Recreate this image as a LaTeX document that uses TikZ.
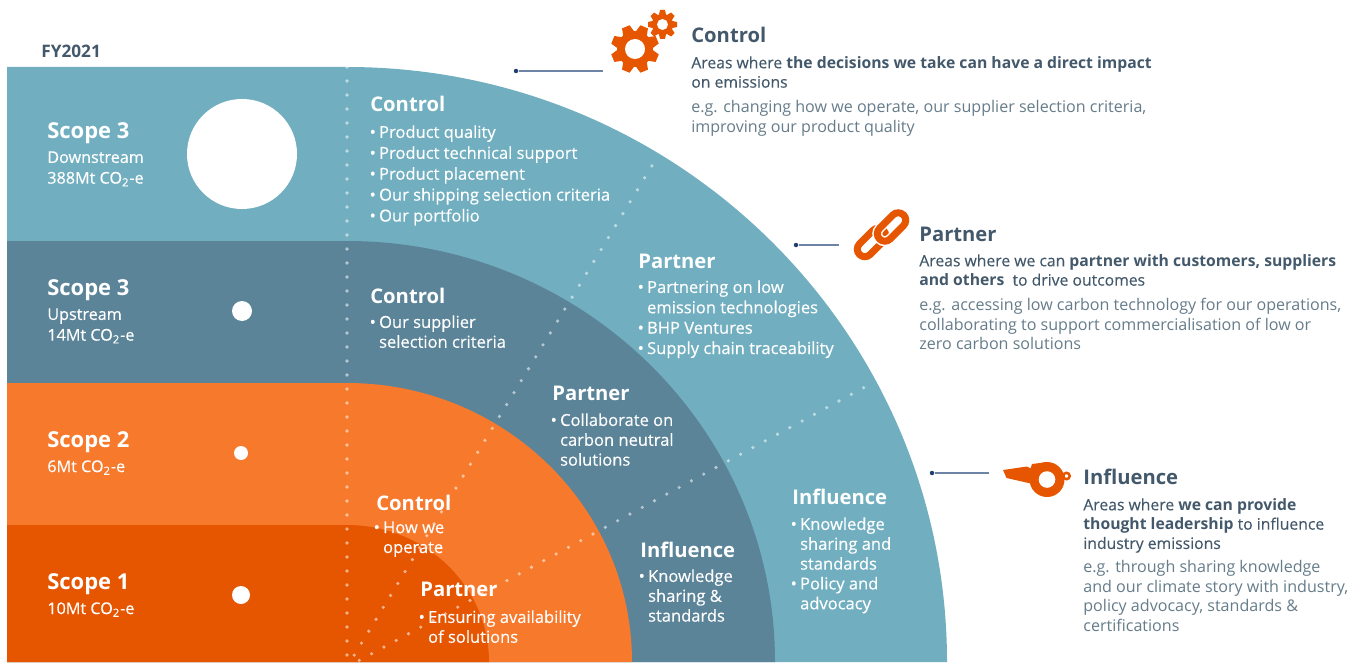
\documentclass[tikz,border=0pt]{standalone}
\usepackage{fontspec}
\setmainfont{Open Sans}
\newfontfamily\medfont{Open Sans}[UprightFeatures={FakeBold=0.3}]
\definecolor{bandlight}{HTML}{71AFC0}
\definecolor{bandmid}{HTML}{5B8499}
\definecolor{bandorange}{HTML}{F7792C}
\definecolor{banddark}{HTML}{E65500}
\definecolor{inkdark}{HTML}{43596B}
\definecolor{inkgrey}{HTML}{667C8A}
\definecolor{leadnavy}{HTML}{1F3F6E}
\definecolor{leadline}{HTML}{6E84A6}
\def\bul{\makebox[5pt][l]{\kern-0.4pt\textbullet}}
\def\hng{\hspace*{5pt}}
\def\cotwo{CO\textsubscript{2}-e}
\def\gearicon(#1)(#2:#3:#4:#5){
	\begin{scope}[shift={(#1)}]
		\fill[banddark] (0, 0) circle (#3);
		\foreach \a in {0,45,...,315}
			\fill[banddark,rotate=\a+#5] (-0.25*#2, -0.9*#3) -- (-0.17*#2, -#2) -- (0.17*#2, -#2) -- (0.25*#2, -0.9*#3) -- cycle;
		\fill[white] (0, 0) circle (#4);
	\end{scope}
}
\def\linkicon(#1)#2{
	\begin{scope}[shift={(#1)},rotate=45]
		\draw[#2,rounded corners=0.15cm] (-17, -7.5) rectangle (17, 7.5);
	\end{scope}
}
\tikzset{
	x=0.02cm, y=-0.02cm,
	txt/.style={inner sep=0, anchor=north west, align=left, text=white, font=\medfont\fontsize{9.4}{11.3}\selectfont},
	txtleft/.style={txt, font=\medfont\fontsize{9.2}{11.8}\selectfont},
	head/.style={inner sep=0, anchor=base west, text=white, font=\fontsize{11.5}{13}\selectfont\bfseries},
	scopehead/.style={head, font=\fontsize{12.5}{14}\selectfont\bfseries},
	side/.style={inner sep=0, anchor=north west, align=left, text=inkdark, font=\medfont\fontsize{8.95}{11}\selectfont},
	sidegrey/.style={side, text=inkgrey, font=\fontsize{9.15}{11.1}\selectfont},
	sidehead/.style={head, text=inkdark},
	leaddot/.style={circle, fill=leadnavy, inner sep=0, minimum size=0.09cm},
	leadrule/.style={draw=leadline, line width=0.6pt},
	dotfill/.style={fill=white, fill opacity=0.55},
	linkline/.style={draw=banddark, line width=0.14cm},
	linkhalo/.style={draw=white, line width=0.2cm}
}
\begin{document}
\begin{tikzpicture}
		\useasboundingbox (0, 0) rectangle (1364, 662);
		%%%%% BANDS %%%%%
		\fill[bandlight] (7, 67) -- (347, 67) arc[start angle=-90, end angle=0, x radius=600, y radius=595] -- (7, 662) -- cycle;
		\fill[bandmid] (7, 241) -- (347, 241) arc[start angle=-90, end angle=0, x radius=428, y radius=421] -- (7, 662) -- cycle;
		\fill[bandorange] (7, 383) -- (347, 383) arc[start angle=-90, end angle=0, x radius=285, y radius=279] -- (7, 662) -- cycle;
		\fill[banddark] (7, 525) -- (347, 525) arc[start angle=-90, end angle=0, x radius=142, y radius=137] -- (7, 662) -- cycle;
		
		%%%%% DOTS %%%%%
		\foreach \i in {0,...,42}
			\fill[dotfill] (347, 67+14*\i) circle (1.8);
		\foreach \i in {1,...,42}
			\fill[dotfill] ({347+7.26*\i}, {667-11.93*\i}) circle (1.8);
		\foreach \i in {1,...,42}
			\fill[dotfill] ({347+12.3*\i}, {667-6.65*\i}) circle (1.8);
		
		%%%%% SCOPE CIRCLES %%%%%
		\fill[white] (242, 154) circle (55);
		\fill[white] (242, 311) circle (10);
		\fill[white] (241, 453) circle (7);
		\fill[white] (241, 595) circle (9);
		
		%%%%% LEFT LABELS %%%%%
		\node[sidehead, font=\fontsize{9.8}{11}\selectfont\bfseries] (fyLabel) at (41, 58) {FY2021};
		\node[scopehead] (scopeDown) at (47, 139) {Scope 3};
		\node[txtleft] (scopeDownText) at (47, 151) {Downstream\\388Mt \cotwo};
		\node[scopehead] (scopeUp) at (47, 295) {Scope 3};
		\node[txtleft] (scopeUpText) at (47, 308) {Upstream\\14Mt \cotwo};
		\node[scopehead] (scopeTwo) at (47, 447) {Scope 2};
		\node[txtleft] (scopeTwoText) at (47, 460) {6Mt \cotwo};
		\node[scopehead] (scopeOne) at (47, 589) {Scope 1};
		\node[txtleft] (scopeOneText) at (47, 602) {10Mt \cotwo};
		
		%%%%% BAND LABELS %%%%%
		\node[head] (ctrlOuter) at (370, 112) {Control};
		\node[txt, font=\medfont\fontsize{9.4}{11.9}\selectfont] (ctrlOuterText) at (370, 125) {\bul Product quality\\\bul Product technical support\\\bul Product placement\\\bul Our shipping selection criteria\\\bul Our portfolio};
		\node[head] (ctrlMid) at (370, 303) {Control};
		\node[txt] (ctrlMidText) at (370, 315) {\bul Our supplier\\\hng selection criteria};
		\node[head] (ctrlInner) at (376, 510) {Control};
		\node[txt] (ctrlInnerText) at (374, 521) {\bul How we\\\hng operate};
		\node[head] (partOuter) at (638, 268) {Partner};
		\node[txt, font=\medfont\fontsize{9.4}{11.6}\selectfont] (partOuterText) at (638, 280) {\bul Partnering on low\\\hng emission technologies\\\bul BHP Ventures\\\bul Supply chain traceability};
		\node[head] (partMid) at (552, 400) {Partner};
		\node[txt] (partMidText) at (551, 413) {\bul Collaborate on\\\hng carbon neutral\\\hng solutions};
		\node[head] (partInner) at (420, 596) {Partner};
		\node[txt] (partInnerText) at (419, 610) {\bul Ensuring availability\\\hng of solutions};
		\node[head] (inflOuter) at (792, 504) {Influence};
		\node[txt] (inflOuterText) at (791, 517) {\bul Knowledge\\\hng sharing and\\\hng standards\\\bul Policy and\\\hng advocacy};
		\node[head] (inflMid) at (640, 557) {Influence};
		\node[txt] (inflMidText) at (639, 569) {\bul Knowledge\\\hng sharing \&\\\hng standards};
		
		%%%%% LEADERS %%%%%
		\node[leaddot] (ctrlDot) at (516, 71) {};
		\coordinate (ctrlEnd) at (603, 71);
		\draw[leadrule] (ctrlDot) -- (ctrlEnd);
		\node[leaddot] (partDot) at (796, 245) {};
		\coordinate (partEnd) at (839, 245);
		\draw[leadrule] (partDot) -- (partEnd);
		\node[leaddot] (inflDot) at (932, 473) {};
		\coordinate (inflEnd) at (989, 473);
		\draw[leadrule] (inflDot) -- (inflEnd);
		
		%%%%% ICONS %%%%%
		\gearicon(635, 49)(24:18:10:22.5)
		\gearicon(662.5, 24.5)(14.5:10.5:5.5:0)
		
		\linkicon(871.5, 242.5){linkline}
		\linkicon(891.5, 227){linkhalo}
		\linkicon(891.5, 227){linkline}
		
		\fill[banddark] (1003, 470) -- (1027, 466.5) -- (1030.5, 468.5) -- (1032, 464) -- (1048, 462) -- (1048, 490) -- (1033, 484) -- (1006.5, 478) -- cycle;
		\fill[banddark] (1047, 479.5) circle (17.5);
		\fill[white] (1047, 479.5) circle (8.3);
		\draw[banddark, line width=0.05cm] (1066.5, 476) circle (3.2);
		
		%%%%% SIDE TEXT %%%%%
		\node[sidehead] (ctrlHead) at (691, 43) {Control};
		\node[side] (ctrlAreas) at (691, 56) {Areas where \textbf{the decisions we take can have a direct impact}\\on emissions};
		\node[sidegrey] (ctrlEg) at (691, 100) {e.g. changing how we operate, our supplier selection criteria,\\improving our product quality};
		\node[sidehead] (partHead) at (919, 241) {Partner};
		\node[side] (partAreas) at (919, 254) {Areas where we can \textbf{partner with customers, suppliers}\\\textbf{and others}\ \ to drive outcomes};
		\node[sidegrey] (partEg) at (919, 298) {e.g. accessing low carbon technology for our operations,\\collaborating to support commercialisation of low or\\zero carbon solutions};
		\node[sidehead] (inflHead) at (1083, 484) {Influence};
		\node[side] (inflAreas) at (1083, 498) {Areas where \textbf{we can provide}\\\textbf{thought leadership} to influence\\industry emissions};
		\node[sidegrey] (inflEg) at (1083, 560) {e.g. through sharing knowledge\\and our climate story with industry,\\policy advocacy, standards \&\\certifications};
		
		%%%%% END %%%%%
	\end{tikzpicture}
\end{document}
